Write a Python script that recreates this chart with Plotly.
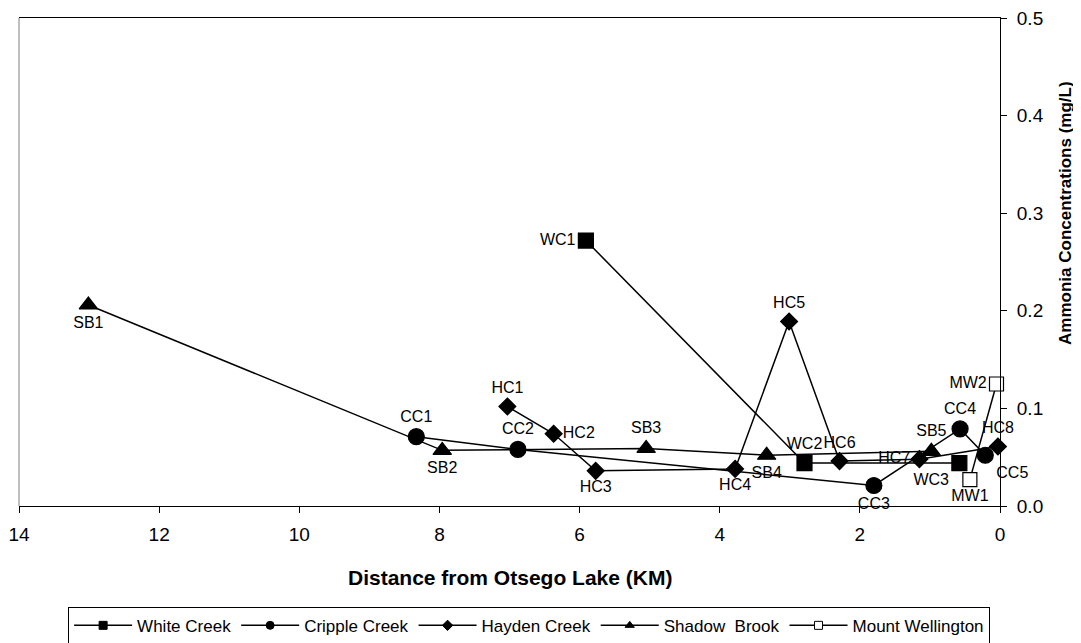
import plotly.graph_objects as go

# ---- data (distance from Otsego Lake in km, ammonia mg/L) ----
wc_x = [5.91, 2.79, 0.58]
wc_y = [0.272, 0.044, 0.044]
wc_lbl = ["WC1", "WC2", "WC3"]

cc_x = [8.33, 6.88, 1.80, 0.57, 0.21]
cc_y = [0.071, 0.058, 0.021, 0.079, 0.052]
cc_lbl = ["CC1", "CC2", "CC3", "CC4", "CC5"]

hc_x = [7.03, 6.37, 5.77, 3.78, 3.01, 2.29, 1.15, 0.03]
hc_y = [0.102, 0.074, 0.036, 0.038, 0.189, 0.046, 0.048, 0.061]
hc_lbl = ["HC1", "HC2", "HC3", "HC4", "HC5", "HC6", "HC7", "HC8"]

sb_x = [13.01, 7.96, 5.05, 3.33, 0.98]
sb_y = [0.206, 0.057, 0.059, 0.052, 0.056]
sb_lbl = ["SB1", "SB2", "SB3", "SB4", "SB5"]

mw_x = [0.43, 0.05]
mw_y = [0.027, 0.125]
mw_lbl = ["MW1", "MW2"]

x_ticks = [14, 12, 10, 8, 6, 4, 2, 0]
y_ticks = [0.0, 0.1, 0.2, 0.3, 0.4, 0.5]

FONT = "Arial, Liberation Sans, sans-serif"

series = [
    dict(name="White Creek", x=wc_x, y=wc_y, t=wc_lbl, sym="square", size=15, fill="black",
         pos=["middle left", "top center", "bottom left"]),
    dict(name="Cripple Creek", x=cc_x, y=cc_y, t=cc_lbl, sym="circle", size=16, fill="black",
         pos=["top center", "top center", "bottom center", "top center", "bottom right"]),
    dict(name="Hayden Creek", x=hc_x, y=hc_y, t=hc_lbl, sym="diamond", size=13, fill="black",
         pos=["top center", "middle right", "bottom center", "bottom center", "top center",
              "top center", "middle left", "top center"]),
    dict(name="Shadow  Brook", x=sb_x, y=sb_y, t=sb_lbl, sym="triangle-up", size=16, fill="black",
         pos=["bottom center", "bottom center", "top center", "bottom center", "top center"]),
    dict(name="Mount Wellington", x=mw_x, y=mw_y, t=mw_lbl, sym="square", size=14, fill="white",
         pos=["bottom center", "middle left"]),
]

fig = go.Figure()
for s in series:
    fig.add_trace(go.Scatter(
        x=s["x"], y=s["y"], mode="lines+markers+text", text=s["t"],
        textposition=s["pos"], textfont=dict(family=FONT, size=16, color="black"),
        line=dict(color="black", width=1.5),
        marker=dict(symbol=s["sym"], size=s["size"], color=s["fill"],
                    line=dict(color="black", width=1.2)),
        showlegend=False, cliponaxis=False,
    ))
# legend entries (smaller markers like the original legend)
for s in series:
    fig.add_trace(go.Scatter(
        x=[None], y=[None], mode="lines+markers", name=s["name"],
        line=dict(color="black", width=1.5),
        marker=dict(symbol=s["sym"], size=8, color=s["fill"],
                    line=dict(color="black", width=1)),
    ))

# page body has an 8px margin, so the figure is 8px smaller and margins shifted
fig.update_layout(
    width=1073, height=635,
    margin=dict(l=11, r=81, t=10, b=137, autoexpand=False),
    paper_bgcolor="white", plot_bgcolor="white",
    font=dict(family=FONT, color="black"),
    xaxis=dict(range=[14, 0], tickvals=x_ticks, ticks="outside", ticklen=6,
               tickcolor="black", showline=True, linecolor="black", linewidth=1,
               mirror=True, showgrid=False, zeroline=False, automargin=False,
               tickfont=dict(size=19), ticklabelstandoff=5, ticklabeloverflow="allow"),
    yaxis=dict(range=[0, 0.5], tickvals=y_ticks, tickformat=".1f", side="right",
               ticks="outside", ticklen=6, tickcolor="black", showline=True,
               linecolor="black", linewidth=1, showgrid=False, zeroline=False,
               automargin=False, tickfont=dict(size=19), ticklabelstandoff=6,
               ticklabeloverflow="allow"),
    legend=dict(orientation="h", x=0.52, xanchor="center",
                yref="container", y=0.057, yanchor="top",
                bordercolor="black", borderwidth=1, bgcolor="white",
                font=dict(size=17), itemwidth=58, traceorder="normal"),
    shapes=[dict(type="line", xref="paper", yref="paper", x0=0, x1=0, y0=0, y1=1,
                 line=dict(color="#808080", width=1))],
    annotations=[
        dict(text="<b>Distance from Otsego Lake (KM)</b>", xref="paper", yref="paper",
             x=0.5, y=-0.147, xanchor="center", yanchor="middle", showarrow=False,
             font=dict(size=21)),
        dict(text="<b>Ammonia Concentrations (mg/L)</b>", xref="paper", yref="paper",
             x=1.066, y=0.6, xanchor="center", yanchor="middle", showarrow=False,
             textangle=-90, font=dict(size=17)),
    ],
)

fig.write_html("out.html")
